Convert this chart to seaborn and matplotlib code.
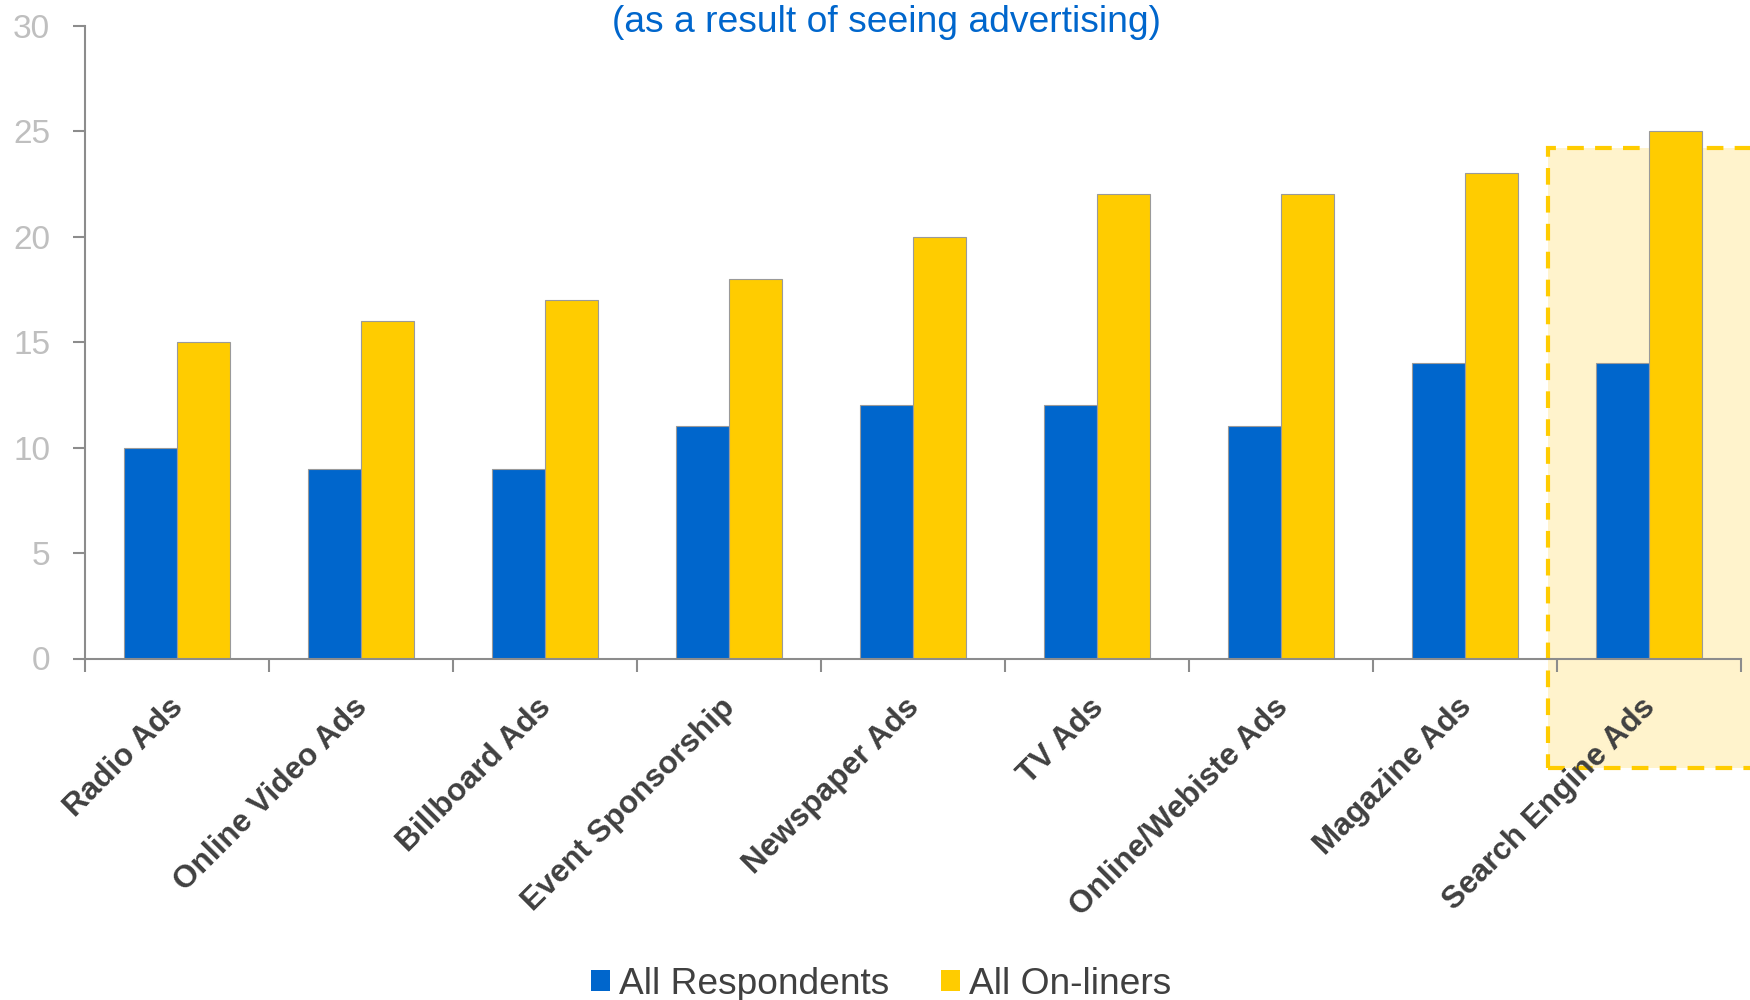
import matplotlib
matplotlib.use("Agg")
import matplotlib.pyplot as plt
import matplotlib.patches as mpatches
import matplotlib.transforms as mtrans
import seaborn as sns
import pandas as pd

categories = ["Radio Ads", "Online Video Ads", "Billboard Ads", "Event Sponsorship",
              "Newspaper Ads", "TV Ads", "Online/Webiste Ads", "Magazine Ads",
              "Search Engine Ads"]
all_respondents = [10, 9, 9, 11, 12, 12, 11, 14, 14]
all_onliners = [15, 16, 17, 18, 20, 22, 22, 23, 25]
series_names = ["All Respondents", "All On-liners"]
y_ticks = [0, 5, 10, 15, 20, 25, 30]

BLUE = "#0066CC"
YELLOW = "#FFCC00"

sns.set_theme(style="white")
plt.rcParams["font.family"] = ["Liberation Sans", "DejaVu Sans"]

df = pd.DataFrame({
    "category": categories * 2,
    "value": all_respondents + all_onliners,
    "series": [series_names[0]] * len(categories) + [series_names[1]] * len(categories),
})

fig = plt.figure(figsize=(17.5, 10), dpi=100)
ax = fig.add_axes([85 / 1750, 1 - 658.5 / 1000, (1741 - 85) / 1750, (658.5 - 25.7) / 1000])

sns.barplot(data=df, x="category", y="value", hue="series", order=categories,
            hue_order=series_names, palette=[BLUE, YELLOW], width=0.575,
            edgecolor="#9a9a9a", linewidth=0.8, saturation=1, ax=ax, legend=False,
            zorder=2)

# highlighted last category
hl = mpatches.Rectangle((1548 / 1750, 1 - 768 / 1000), 0.2, (768 - 148) / 1000,
                        transform=fig.transFigure, facecolor="#FFF3CC",
                        edgecolor=YELLOW, linewidth=3, linestyle=(0, (4, 2.7)),
                        clip_on=False, zorder=0.5)
ax.add_patch(hl)

ax.set_xlim(-0.5, len(categories) - 0.5)
ax.set_ylim(0, 30)
ax.set_yticks(y_ticks)
ax.set_xlabel("")
ax.set_ylabel("")

for side in ["top", "right"]:
    ax.spines[side].set_visible(False)
for side in ["left", "bottom"]:
    ax.spines[side].set_color("#8c8c8c")
    ax.spines[side].set_linewidth(1.5)
    ax.spines[side].set_zorder(3)

ax.tick_params(axis="y", which="major", left=True, length=9, width=1.5, color="#8c8c8c",
               labelsize=24, labelcolor="#bfbfbf", pad=16)
ax.set_xticks(range(len(categories)))
ax.set_xticks([i - 0.5 for i in range(len(categories) + 1)], minor=True)
ax.tick_params(axis="x", which="major", bottom=False, length=0, pad=32)
ax.tick_params(axis="x", which="minor", bottom=True, length=9, width=1.5, color="#8c8c8c")
ax.set_xticklabels(categories, rotation=45, ha="right", va="center",
                   rotation_mode="anchor", fontsize=22.7, fontweight="bold", color="#404040")
offset = mtrans.ScaledTranslation(2 / 100, 0, fig.dpi_scale_trans)
for lbl in ax.get_xticklabels():
    lbl.set_transform(lbl.get_transform() + offset)

fig.text(886 / 1750, 1 - 23 / 1000, "(as a result of seeing advertising)",
         ha="center", va="center", fontsize=26.8, color=BLUE)

handles = [mpatches.Patch(facecolor=BLUE, edgecolor="none"),
           mpatches.Patch(facecolor=YELLOW, edgecolor="none")]
fig.legend(handles, series_names, loc="center", bbox_to_anchor=(881 / 1750, 0.016),
           ncol=2, frameon=False, fontsize=26.7, handlelength=0.5, handleheight=0.5,
           handletextpad=0.25, columnspacing=1.4, labelcolor="#404040",
           borderaxespad=0, borderpad=0)

fig.savefig("out.png", dpi=100)
